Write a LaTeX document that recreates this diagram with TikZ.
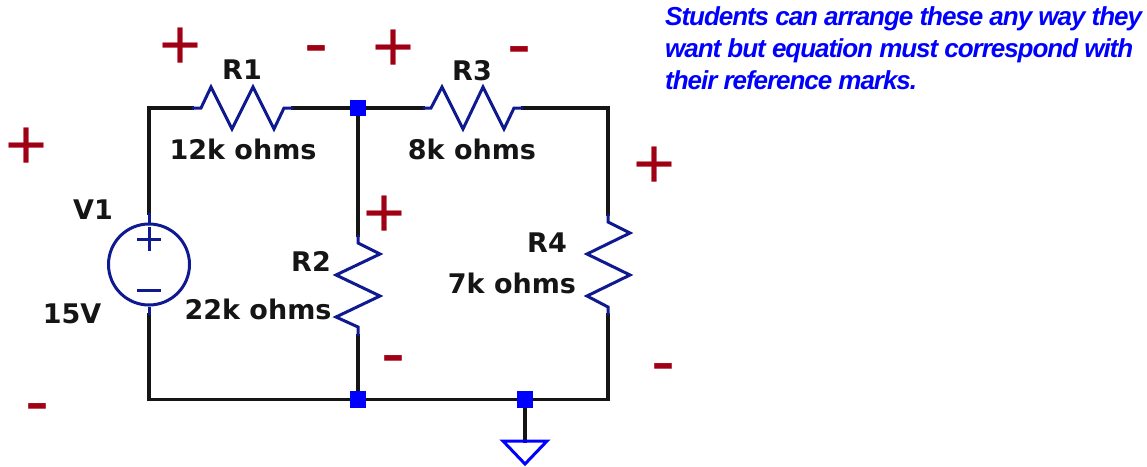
\documentclass[tikz,border=0pt]{standalone}
\usepackage{fontspec}
\setmainfont{DejaVu Sans}
\newfontfamily\notefont{Liberation Sans}
\newfontfamily\signfont{Liberation Sans}
\definecolor{wireblack}{HTML}{151515}
\definecolor{symblue}{HTML}{0F1A90}
\definecolor{juncblue}{HTML}{0000FF}
\definecolor{signred}{HTML}{A00014}
\tikzset{
  wire/.style={draw=wireblack,line width=3.2pt,line join=miter,line cap=rect},
  sym/.style={draw=symblue,line width=3pt,line join=miter},
  junc/.style={rectangle,fill=juncblue,minimum size=16.5pt,inner sep=0pt,draw=none},
  lab/.style={inner sep=0pt,text=wireblack,font=\fontsize{27}{30}\selectfont\bfseries},
  sgn/.style={inner sep=0pt,anchor=base,text=signred,font=\fontsize{72}{72}\signfont},
  note/.style={inner sep=0pt,anchor=north west,align=left,text=juncblue,
    font=\fontsize{26}{32}\notefont\bfseries\itshape\addfontfeature{LetterSpace=-4}},
}
\begin{document}
\begin{tikzpicture}[x=1pt,y=-1pt]
\useasboundingbox (0,0) rectangle (1147,466);
% junctions
\coordinate (tl) at (149,108);
\coordinate (tr) at (608,108);
\coordinate (bl) at (149,399.5);
\coordinate (br) at (608,399.5);
\coordinate (r1a) at (192,108);
\coordinate (r1b) at (293,108);
\coordinate (r3a) at (423,108);
\coordinate (r3b) at (523,108);
\coordinate (r2a) at (358,235);
\coordinate (r2b) at (358,336);
\coordinate (r4a) at (608,214);
\coordinate (r4b) at (608,315);
\coordinate (v1a) at (149,213);
\coordinate (v1b) at (149,315);
\coordinate (gnd) at (525,441);
\coordinate (j1c) at (358,108);
\coordinate (j2c) at (358,399.5);
\coordinate (j3c) at (525,399.5);
% wires
\draw[wire] (v1a) -- (tl) -- (r1a);
\draw[wire] (r1b) -- (j1c);
\draw[wire] (j1c) -- (r3a);
\draw[wire] (r3b) -- (tr) -- (r4a);
\draw[wire] (j1c) -- (r2a);
\draw[wire] (r2b) -- (j2c);
\draw[wire] (v1b) -- (bl) -- (j2c);
\draw[wire] (j2c) -- (j3c);
\draw[wire] (j3c) -- (br) -- (r4b);
\draw[wire] (j3c) -- (gnd);
\node[junc] (j1) at (j1c) {};
\node[junc] (j2) at (j2c) {};
\node[junc] (j3) at (j3c) {};
% source
\node[circle,draw=symblue,line width=3pt,minimum size=81pt,inner sep=0pt] (v1) at (149,264.5) {};
% resistors
\draw[sym] (r1a) -- (201,108) -- (211,87) -- (232,129) -- (253,87) -- (274,129) -- (284,108) -- (r1b);
\draw[sym] (r3a) -- (431,108) -- (442,87) -- (463,129) -- (483,87) -- (504,129) -- (514,108) -- (r3b);
\draw[sym] (r2a) -- (358,243) -- (380,254) -- (336,275) -- (380,296) -- (336,317) -- (358,327) -- (r2b);
\draw[sym] (r4a) -- (608,222) -- (630,233) -- (587,254) -- (630,275) -- (587,296) -- (608,307) -- (r4b);
% source leads and signs
\draw[sym] (v1a) -- (v1.north);
\draw[sym] (v1.south) -- (v1b);
\coordinate (vp1) at (137,239); \coordinate (vp2) at (161,239);
\coordinate (vp3) at (149,227); \coordinate (vp4) at (149,251);
\coordinate (vm1) at (137,290); \coordinate (vm2) at (161,290);
\draw[sym] (vp1) -- (vp2);
\draw[sym] (vp3) -- (vp4);
\draw[sym] (vm1) -- (vm2);
% ground
\draw[draw=juncblue,line width=3pt,line join=miter] (gnd) -- (503,441) -- (525,464) -- (547,441) -- cycle;
% labels
\node[lab] (lr1) at (242,70) {R1};
\node[lab] (vr1) at (243,149) {12k ohms};
\node[lab] (lr3) at (472,71) {R3};
\node[lab] (vr3) at (472,149) {8k ohms};
\node[lab] (lv1) at (93,210) {V1};
\node[lab] (vv1) at (72,314) {15V};
\node[lab] (lr2) at (311,261) {R2};
\node[lab] (vr2) at (258,309) {22k ohms};
\node[lab] (lr4) at (547,243) {R4};
\node[lab] (vr4) at (512,283) {7k ohms};
% reference marks
\node[sgn] (p1) at (181,69) {+};
\node[sgn] (p2) at (27,169) {+};
\node[sgn] (p3) at (394,71) {+};
\node[sgn] (p4) at (385,237) {+};
\node[sgn] (p5) at (655,188) {+};
\node[sgn] (m1) at (316,67) {-};
\node[sgn] (m2) at (519,68) {-};
\node[sgn] (m3) at (37,425) {-};
\node[sgn] (m4) at (393,377) {-};
\node[sgn] (m5) at (663,385) {-};
% note
\node[note] (note) at (665,6) {Students can arrange these any way they\\want but equation must correspond with\\their reference marks.};
\end{tikzpicture}
\end{document}
